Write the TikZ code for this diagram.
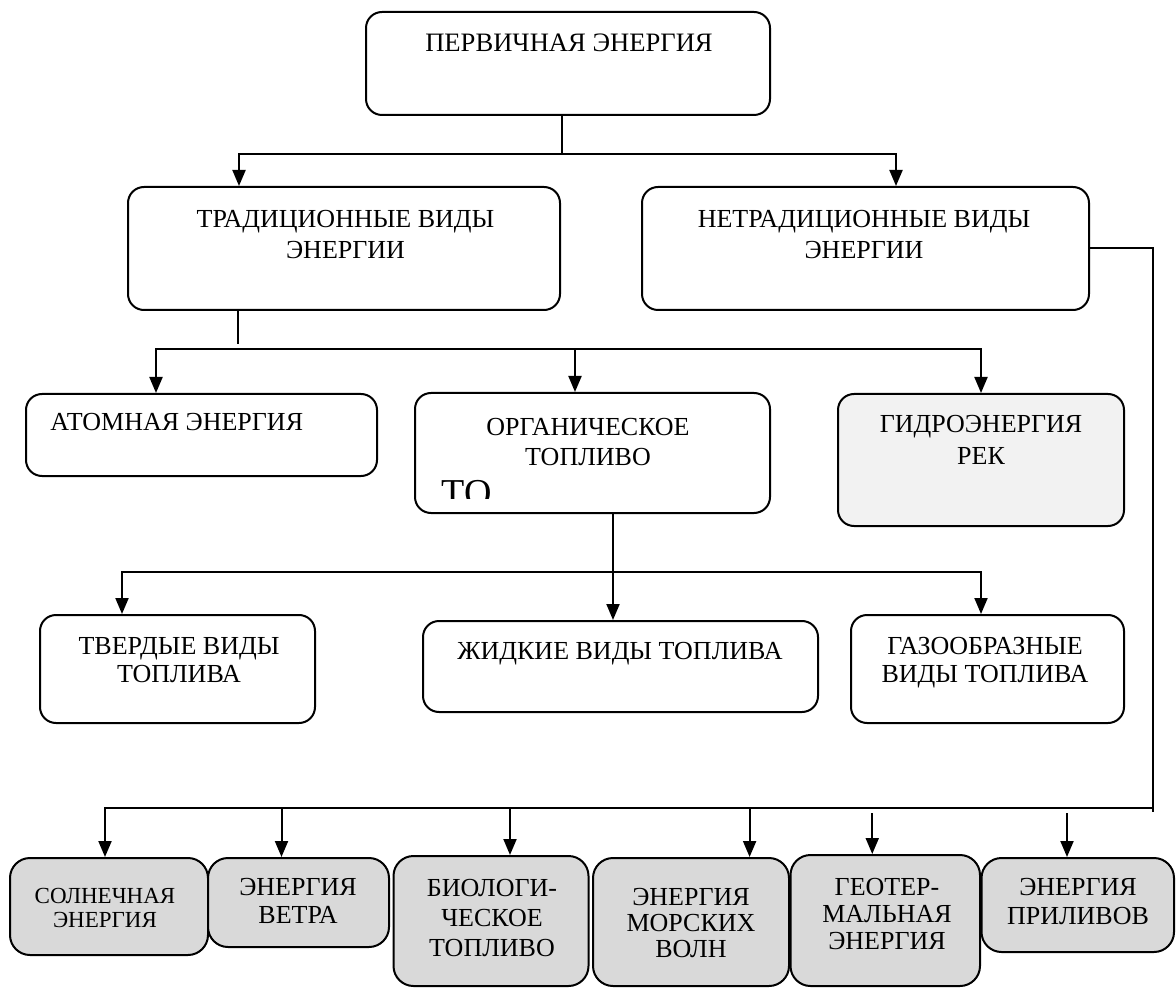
\documentclass[tikz,border=0pt]{standalone}
\usepackage{fontspec}
\setmainfont{Liberation Serif}
\usetikzlibrary{arrows.meta, calc}
\definecolor{boxgray}{RGB}{217,217,217}
\definecolor{palegray}{RGB}{242,242,242}

\begin{document}
\begin{tikzpicture}[x=0.5pt, y=-0.5pt,
    blk/.style={draw, line width=1pt, rounded corners=8pt, inner sep=0pt},
    lbl/.style={inner sep=0pt, anchor=north, align=center},
    ln/.style={line width=1pt},
    arr/.style={-{Triangle[length=8pt, width=6.5pt]}, line width=1pt}]
    \useasboundingbox (0,0) rectangle (1176,988);

    % Top level
    \node[blk, minimum width=202pt, minimum height=51.5pt] (top) at (568,63.5) {};
    \node[lbl, font=\fontsize{13.3}{15.5}\selectfont] (top-t) at (569,33) {ПЕРВИЧНАЯ ЭНЕРГИЯ};

    % Second level
    \node[blk, minimum width=216pt, minimum height=61.5pt] (trad) at (344,248.5) {};
    \node[lbl, font=\fontsize{13}{15.5}\selectfont] (trad-t) at (345.5,210) {ТРАДИЦИОННЫЕ ВИДЫ\\ЭНЕРГИИ};
    \node[blk, minimum width=223.5pt, minimum height=61.5pt] (nontrad) at (865.5,248.5) {};
    \node[lbl, font=\fontsize{13}{15.5}\selectfont] (nontrad-t) at (864,210) {НЕТРАДИЦИОННЫЕ ВИДЫ\\ЭНЕРГИИ};

    % Traditional kinds
    \node[blk, minimum width=175.5pt, minimum height=41pt] (atom) at (201.5,435) {};
    \node[lbl, anchor=north west, font=\fontsize{13}{15.5}\selectfont] (atom-t) at (50,413) {АТОМНАЯ ЭНЕРГИЯ};
    \node[blk, minimum width=177.5pt, minimum height=60pt] (org) at (592.5,453) {};
    \node[lbl, font=\fontsize{13}{15}\selectfont] (org-t) at (588,418) {ОРГАНИЧЕСКОЕ\\ТОПЛИВО};
    \begin{scope}
        \clip (430,470) rectangle (520,498);
        \node[lbl, anchor=north west, font=\fontsize{19}{22}\selectfont] (org-to) at (441,480) {ТО};
    \end{scope}
    \node[blk, fill=palegray, minimum width=143pt, minimum height=66pt] (hydro) at (981,460) {};
    \node[lbl, font=\fontsize{13}{16}\selectfont] (hydro-t) at (981,415) {ГИДРОЭНЕРГИЯ\\РЕК};

    % Fuel kinds
    \node[blk, minimum width=137.5pt, minimum height=54pt] (solid) at (177.5,669) {};
    \node[lbl, font=\fontsize{13}{14}\selectfont] (solid-t) at (179,637) {ТВЕРДЫЕ ВИДЫ\\ТОПЛИВА};
    \node[blk, minimum width=197.5pt, minimum height=45.5pt] (liquid) at (620.5,666.5) {};
    \node[lbl, font=\fontsize{13}{14}\selectfont] (liquid-t) at (620,642) {ЖИДКИЕ ВИДЫ ТОПЛИВА};
    \node[blk, minimum width=136.5pt, minimum height=54pt] (gas) at (987.5,669) {};
    \node[lbl, font=\fontsize{13}{14}\selectfont] (gas-t) at (985,637) {ГАЗООБРАЗНЫЕ\\ВИДЫ ТОПЛИВА};

    % Non-traditional kinds
    \node[blk, fill=boxgray, rounded corners=10pt, minimum width=99pt, minimum height=48.5pt] (solar) at (109,906.5) {};
    \node[lbl, font=\fontsize{11.5}{12}\selectfont] (solar-t) at (105,888) {СОЛНЕЧНАЯ\\ЭНЕРГИЯ};
    \node[blk, fill=boxgray, rounded corners=10pt, minimum width=90.5pt, minimum height=44.5pt] (wind) at (298.5,902.5) {};
    \node[lbl, font=\fontsize{13}{14}\selectfont] (wind-t) at (298,878) {ЭНЕРГИЯ\\ВЕТРА};
    \node[blk, fill=boxgray, rounded corners=10pt, minimum width=97.5pt, minimum height=65pt] (bio) at (491,921) {};
    \node[lbl, font=\fontsize{13}{15}\selectfont] (bio-t) at (492,879) {БИОЛОГИ-\\ЧЕСКОЕ\\ТОПЛИВО};
    \node[blk, fill=boxgray, rounded corners=10pt, minimum width=98pt, minimum height=64pt] (sea) at (691,922) {};
    \node[lbl, font=\fontsize{13}{13}\selectfont] (sea-t) at (691,888) {ЭНЕРГИЯ\\МОРСКИХ\\ВОЛН};
    \node[blk, fill=boxgray, rounded corners=10pt, minimum width=94.75pt, minimum height=65.5pt] (geo) at (885.25,920.5) {};
    \node[lbl, font=\fontsize{13}{13.5}\selectfont] (geo-t) at (887,878) {ГЕОТЕР-\\МАЛЬНАЯ\\ЭНЕРГИЯ};
    \node[blk, fill=boxgray, rounded corners=10pt, minimum width=96.25pt, minimum height=47pt] (tide) at (1077.75,905) {};
    \node[lbl, font=\fontsize{13}{14.5}\selectfont] (tide-t) at (1078,878) {ЭНЕРГИЯ\\ПРИЛИВОВ};

    % Branch points and arrow ends
    \coordinate (s1) at (562,154);
    \coordinate (s2) at (238,344);
    \coordinate (s3) at (575,349);
    \coordinate (s4) at (613,572);
    \coordinate (s5) at (1153,808);
    \coordinate (e-trad) at ($(trad.north)+(-105,0)$);
    \coordinate (e-nontrad) at ($(nontrad.north)+(30.5,0)$);
    \coordinate (e-atom) at ($(atom.north)+(-45.5,0)$);
    \coordinate (e-org) at ($(org.north)+(-17.5,0)$);
    \coordinate (e-solid) at ($(solid.north)+(-55.5,0)$);
    \coordinate (e-gas) at ($(gas.north)+(-6.5,0)$);
    \coordinate (e-solar) at ($(solar.north)+(-4,0)$);
    \coordinate (e-wind) at ($(wind.north)+(-17,0)$);
    \coordinate (e-bio) at ($(bio.north)+(19,0)$);
    \coordinate (e-sea) at ($(sea.north)+(58.6,0)$);
    \coordinate (e-geo) at ($(geo.north)+(-13,0)$);
    \coordinate (e-tide) at ($(tide.north)+(-10.75,0)$);

    % Primary energy
    \draw[ln] (top.south -| s1) -- (s1);
    \draw[arr] (s1) -| (e-trad);
    \draw[arr] (s1) -| (e-nontrad);

    % Traditional
    \draw[ln] (trad.south -| s2) -- (s2);
    \draw[arr] (s3) -| (e-atom);
    \draw[arr] (s3) -- (e-org);
    \draw[arr] (s3) -| (hydro.north);

    % Organic fuel
    \draw[ln] (org.south -| s4) -- (s4);
    \draw[arr] (s4) -| (e-solid);
    \draw[arr] (s4) -- (liquid.north -| s4);
    \draw[arr] (s4) -| (e-gas);

    % Non-traditional
    \draw[ln] (nontrad.east) -| ($(s5)+(0,4)$);
    \draw[arr] (s5) -| (e-solar);
    \draw[arr] (e-wind |- s5) -- (e-wind);
    \draw[arr] (e-bio |- s5) -- (e-bio);
    \draw[arr] (e-sea |- s5) -- (e-sea);
    \draw[arr, shorten <=2.5pt] (e-geo |- s5) -- (e-geo);
    \draw[arr, shorten <=2.5pt] (e-tide |- s5) -- (e-tide);
\end{tikzpicture}
\end{document}
